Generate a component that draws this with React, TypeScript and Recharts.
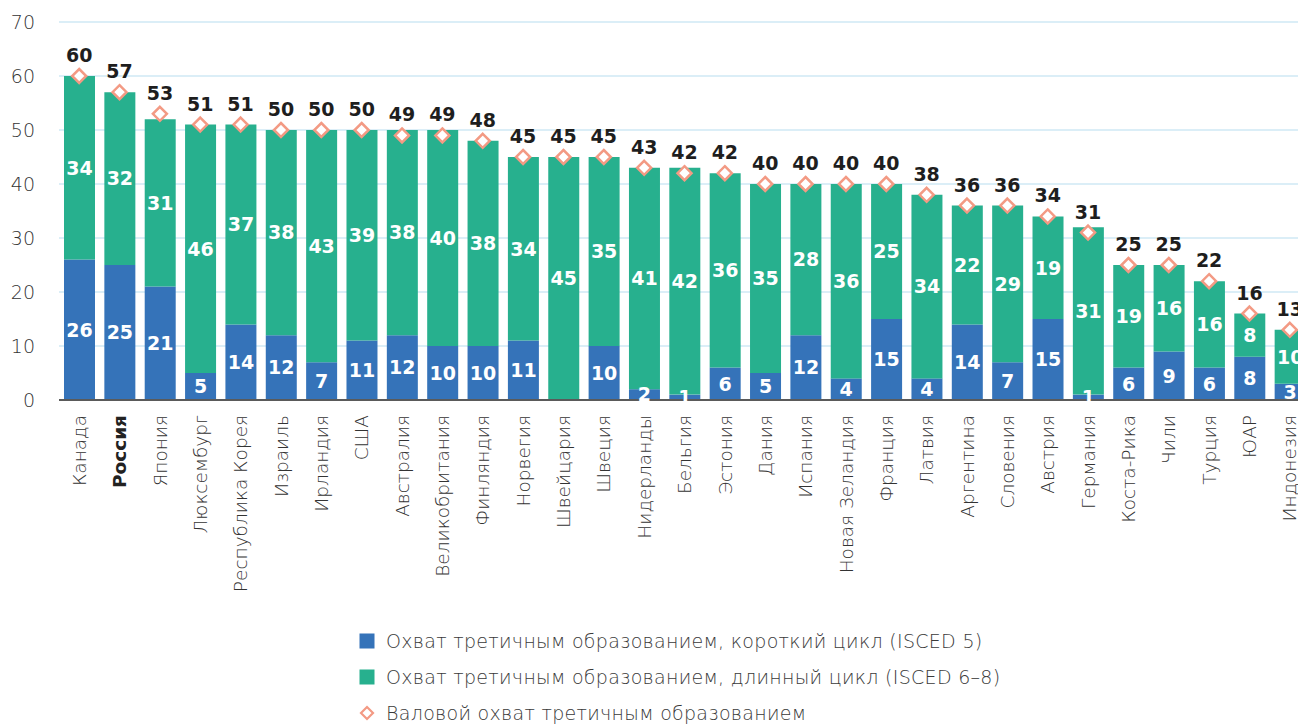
import { ComposedChart, Bar, Line, XAxis, YAxis, CartesianGrid, LabelList, Legend } from "recharts";

const countries = [
  "Канада", "Россия", "Япония", "Люксембург", "Республика Корея", "Израиль", "Ирландия", "США",
  "Австралия", "Великобритания", "Финляндия", "Норвегия", "Швейцария", "Швеция", "Нидерланды",
  "Бельгия", "Эстония", "Дания", "Испания", "Новая Зеландия", "Франция", "Латвия", "Аргентина",
  "Словения", "Австрия", "Германия", "Коста-Рика", "Чили", "Турция", "ЮАР", "Индонезия",
];
// короткий цикл (ISCED 5)
const shortCycle = [26, 25, 21, 5, 14, 12, 7, 11, 12, 10, 10, 11, 0, 10, 2, 1, 6, 5, 12, 4, 15, 4, 14, 7, 15, 1, 6, 9, 6, 8, 3];
// длинный цикл (ISCED 6-8)
const longCycle = [34, 32, 31, 46, 37, 38, 43, 39, 38, 40, 38, 34, 45, 35, 41, 42, 36, 35, 28, 36, 25, 34, 22, 29, 19, 31, 19, 16, 16, 8, 10];
// валовой охват
const gross = [60, 57, 53, 51, 51, 50, 50, 50, 49, 49, 48, 45, 45, 45, 43, 42, 42, 40, 40, 40, 40, 38, 36, 36, 34, 31, 25, 25, 22, 16, 13];
const yTicks = [0, 10, 20, 30, 40, 50, 60, 70];

const BLUE = "#3573b9";
const GREEN = "#27b08e";
const DIAMOND = "#f39a84";
const LABEL_FONT = "'DejaVu Sans', sans-serif";
const AXIS_FONT = "'DejaVu Sans', sans-serif";

const data = countries.map((name, i) => ({
  name,
  short: shortCycle[i],
  long: longCycle[i],
  total: gross[i],
}));

const legendItems = [
  { label: "Охват третичным образованием, короткий цикл (ISCED 5)", type: "square", color: BLUE },
  { label: "Охват третичным образованием, длинный цикл (ISCED 6–8)", type: "square", color: GREEN },
  { label: "Валовой охват третичным образованием", type: "diamond", color: DIAMOND },
];

const CountryTick = (props: any) => {
  const { x, y, payload } = props;
  const bold = payload.value === "Россия";
  return (
    <text
      x={x}
      y={y}
      transform={`rotate(-90, ${x}, ${y})`}
      textAnchor="end"
      dy="0.36em"
      fontSize={18.5}
      fontFamily={AXIS_FONT}
      fontWeight={bold ? 700 : 200}
      fill={bold ? "#222" : "#333"}
    >
      {payload.value}
    </text>
  );
};

const DiamondDot = (props: any) => {
  const { cx, cy, index } = props;
  if (cx == null || cy == null) return null;
  const r = 7;
  return (
    <path
      key={`d-${index}`}
      d={`M${cx},${cy - r} L${cx + r},${cy} L${cx},${cy + r} L${cx - r},${cy} Z`}
      fill="#fff"
      stroke={DIAMOND}
      strokeWidth={2.5}
    />
  );
};

const segmentLabel = (props: any) => {
  const { x, y, width, height, value } = props;
  if (!value) return null;
  return (
    <text
      x={x + width / 2}
      y={y + height / 2}
      dy="0.36em"
      textAnchor="middle"
      fill="#fff"
      fontSize={19}
      fontWeight={700}
      fontFamily={LABEL_FONT}
    >
      {value}
    </text>
  );
};

const LegendBox = () => (
  <div style={{ fontFamily: AXIS_FONT, fontWeight: 200, fontSize: 19, color: "#3a3a3a", letterSpacing: 0.3 }}>
    {legendItems.map((item) => (
      <div key={item.label} style={{ display: "flex", alignItems: "center", height: 36 }}>
        <svg width={16} height={16} style={{ marginRight: 11 }}>
          {item.type === "square" ? (
            <rect x={0.5} y={0.5} width={15} height={15} fill={item.color} />
          ) : (
            <path d="M8,2 L14,8 L8,14 L2,8 Z" fill="#fff" stroke={item.color} strokeWidth={2.2} />
          )}
        </svg>
        <span>{item.label}</span>
      </div>
    ))}
  </div>
);

export default function App() {
  return (
    <div style={{ position: "absolute", left: 0, top: 0, width: 1298, height: 724, overflow: "hidden", background: "#fff" }}>
      <ComposedChart
        width={1320}
        height={724}
        data={data}
        margin={{ top: 22, right: 10, bottom: 24, left: 0 }}
      >
        <CartesianGrid vertical={false} stroke="#cfe9f5" strokeWidth={1.5} />
        <XAxis
          dataKey="name"
          interval={0}
          height={300}
          tickSize={0}
          tickMargin={15}
          tickLine={false}
          axisLine={{ stroke: "#5a5a5a", strokeWidth: 2 }}
          tick={<CountryTick />}
        />
        <YAxis
          width={59}
          domain={[0, 70]}
          ticks={yTicks}
          interval={0}
          tickSize={0}
          tickMargin={24}
          axisLine={false}
          tickLine={false}
          tick={{ fontSize: 19, fontFamily: AXIS_FONT, fontWeight: 200, fill: "#333" }}
        />
        <Legend
          layout="vertical"
          align="center"
          verticalAlign="middle"
          wrapperStyle={{ left: 359, top: 623, width: 720, height: 108 }}
          content={<LegendBox />}
        />
        <Bar dataKey="short" stackId="a" fill={BLUE} barSize={31} isAnimationActive={false}>
          <LabelList dataKey="short" content={segmentLabel} />
        </Bar>
        <Bar dataKey="long" stackId="a" fill={GREEN} barSize={31} isAnimationActive={false}>
          <LabelList dataKey="long" content={segmentLabel} />
        </Bar>
        <Line
          dataKey="total"
          stroke="none"
          dot={<DiamondDot />}
          activeDot={false}
          isAnimationActive={false}
        >
          <LabelList
            dataKey="total"
            position="top"
            offset={14}
            fill="#1e1e1e"
            fontSize={19}
            fontWeight={700}
            fontFamily={LABEL_FONT}
          />
        </Line>
      </ComposedChart>
    </div>
  );
}
